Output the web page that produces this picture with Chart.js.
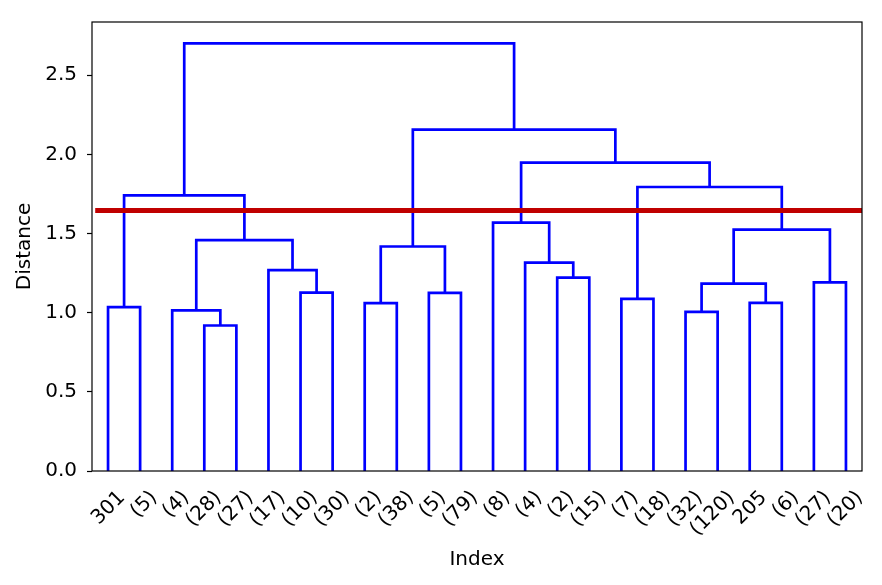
<!DOCTYPE html>
<html>
<head>
<meta charset="utf-8">
<script src="https://cdn.jsdelivr.net/npm/chart.js@4.4.1/dist/chart.umd.min.js"></script>
<style>
  html, body { margin: 0; padding: 0; background: #fff; }
  #wrap { width: 882px; height: 585px; }
</style>
</head>
<body>
<div id="wrap"><canvas id="tree" width="882" height="585"></canvas></div>
<script>
// leaf labels, left to right
const leafLabels = ["301", "(5)", "(4)", "(28)", "(27)", "(17)", "(10)", "(30)", "(2)", "(38)", "(5)", "(79)",
  "(8)", "(4)", "(2)", "(15)", "(7)", "(18)", "(32)", "(120)", "205", "(6)", "(27)", "(20)"];

// merges: ids 0..23 are the leaves, each merge gets the next id (24, 25, ...)
const mergeLeft = [0, 3, 2, 6, 5, 26, 24, 8, 10, 31, 14, 13, 12, 16, 18, 20, 38, 22, 40, 37, 36, 33, 30];
const mergeRight = [1, 4, 25, 7, 27, 28, 29, 9, 11, 32, 15, 34, 35, 17, 19, 21, 39, 23, 41, 42, 43, 44, 45];
const mergeHeight = [1.035, 0.919, 1.014, 1.127, 1.269, 1.458, 1.741, 1.060, 1.125, 1.418, 1.221, 1.316,
  1.569, 1.087, 1.005, 1.062, 1.184, 1.192, 1.525, 1.794, 1.948, 2.156, 2.701];

// cut line
const cutHeight = 1.645;

const yTicks = [0, 0.5, 1.0, 1.5, 2.0, 2.5];

// leaf positions like scipy: 5, 15, 25, ...
const nodeX = leafLabels.map((_, i) => 10 * i + 5);
const nodeY = leafLabels.map(() => 0);

const linkSets = [];
mergeLeft.forEach((a, k) => {
  const b = mergeRight[k];
  const h = mergeHeight[k];
  linkSets.push({
    data: [
      { x: nodeX[a], y: nodeY[a] },
      { x: nodeX[a], y: h },
      { x: nodeX[b], y: h },
      { x: nodeX[b], y: nodeY[b] }
    ],
    showLine: true,
    borderColor: "#0000ff",
    borderWidth: 2.7,
    pointRadius: 0,
    order: 1
  });
  nodeX.push((nodeX[a] + nodeX[b]) / 2);
  nodeY.push(h);
});

const xMax = leafLabels.length * 10;
const yMax = Math.max(...mergeHeight) * 1.05;

const cutLine = {
  data: [{ x: 1, y: cutHeight }, { x: xMax, y: cutHeight }],
  showLine: true,
  borderColor: "#c00000",
  borderWidth: 5,
  pointRadius: 0,
  order: 0
};

const font = { family: "DejaVu Sans", size: 20 };

// box around the plot, drawn over the lines
const frame = {
  id: "frame",
  afterDatasetsDraw(chart) {
    const { ctx, chartArea: a } = chart;
    ctx.save();
    ctx.strokeStyle = "#000";
    ctx.lineWidth = 1.2;
    ctx.strokeRect(a.left, a.top, a.right - a.left, a.bottom - a.top);
    ctx.restore();
  }
};

new Chart(document.getElementById("tree"), {
  type: "scatter",
  data: { datasets: [cutLine, ...linkSets] },
  plugins: [frame],
  options: {
    responsive: false,
    devicePixelRatio: 1,
    animation: false,
    layout: { padding: { top: 21, right: 20, left: 0, bottom: 0 } },
    plugins: {
      legend: { display: false },
      tooltip: { enabled: false }
    },
    scales: {
      x: {
        type: "linear",
        min: 0,
        max: xMax,
        afterBuildTicks: s => { s.ticks = leafLabels.map((_, i) => ({ value: 10 * i + 5 })); },
        afterFit: s => { s.height = 114; },
        ticks: {
          autoSkip: false,
          minRotation: 45,
          maxRotation: 45,
          labelOffset: 14,
          padding: 15,
          color: "#000",
          font,
          callback: (v, i) => leafLabels[i]
        },
        grid: { display: false, drawTicks: false },
        border: { display: false },
        title: { display: true, text: "Index", color: "#000", font, padding: { top: 0, bottom: 13 } }
      },
      y: {
        type: "linear",
        min: 0,
        max: yMax,
        afterBuildTicks: s => { s.ticks = yTicks.map(v => ({ value: v })); },
        afterFit: s => { s.width = 92; },
        ticks: { color: "#000", font, padding: 10, callback: v => v.toFixed(1) },
        grid: { drawOnChartArea: false, tickLength: 5, tickWidth: 1.2, tickColor: "#000" },
        border: { display: false },
        title: { display: true, text: "Distance", color: "#000", font, padding: { top: 13, bottom: 0 } }
      }
    }
  }
});
</script>
</body>
</html>
